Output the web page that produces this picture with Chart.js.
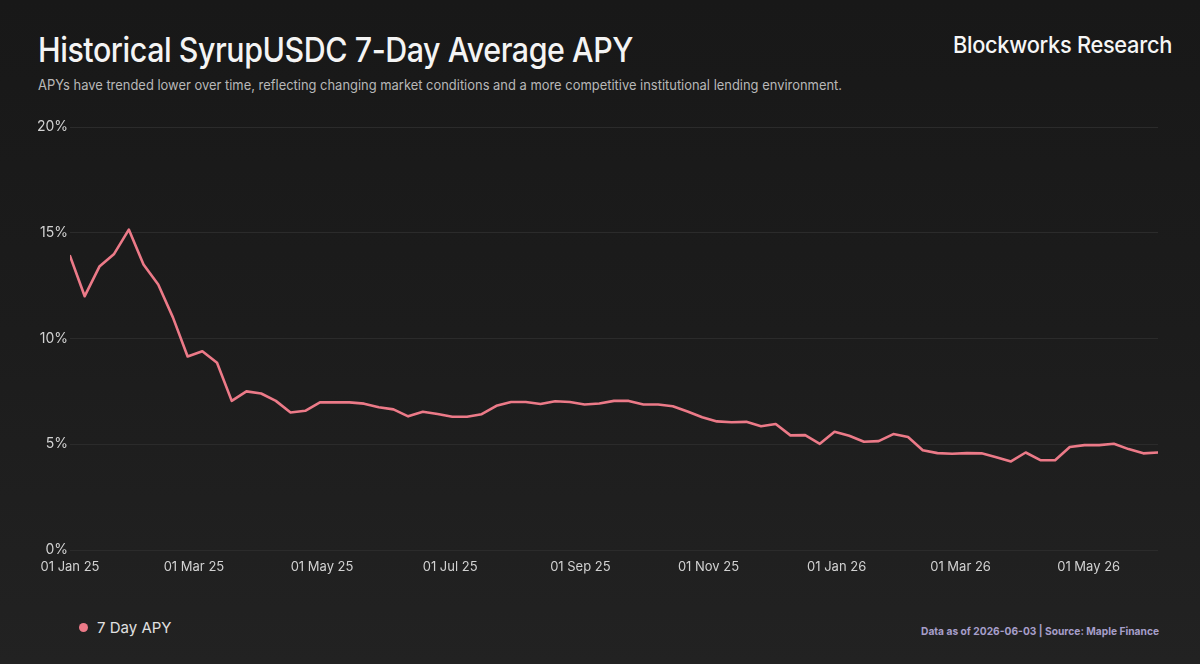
<!DOCTYPE html>
<html>
<head>
<meta charset="utf-8">
<script src="https://cdn.jsdelivr.net/npm/chart.js@4/dist/chart.umd.min.js"></script>
<style>
  html, body { margin: 0; padding: 0; }
  body {
    width: 1200px; height: 664px; overflow: hidden; position: relative;
    background: linear-gradient(180deg, #181818 0%, #1c1c1c 50%, #222222 100%);
    font-family: Inter, "Noto Sans", sans-serif;
  }
  .txt { position: absolute; white-space: nowrap; transform-origin: 0 50%; line-height: 1; }
  #title { left: 38px; top: 33px; font-size: 34px; font-weight: 500; color: #f4f4f4; letter-spacing: -0.5px; }
  #subtitle { left: 38px; top: 78px; font-size: 14px; font-weight: 400; color: #b8b8b8; }
  #brand { left: 953px; top: 34px; font-size: 23px; font-weight: 500; color: #f6f6f6; letter-spacing: -0.3px; }
  #legend { left: 79px; top: 620px; font-size: 15px; color: #e0e0e0; }
  #legend .dot { display: inline-block; width: 9px; height: 9px; border-radius: 50%; background: #ec7a88; margin-right: 9px; vertical-align: 1px; }
  #footer { left: 921px; top: 626px; font-size: 11px; font-weight: 700; color: #a69ec9; }
  #wrap { position: absolute; left: 0; top: 110px; width: 1200px; height: 480px; }
</style>
</head>
<body>
<div id="title" class="txt">Historical SyrupUSDC 7-Day Average APY</div>
<div id="subtitle" class="txt">APYs have trended lower over time, reflecting changing market conditions and a more competitive institutional lending environment.</div>
<div id="brand" class="txt">Blockworks Research</div>
<div id="legend" class="txt"><span class="dot"></span>7 Day APY</div>
<div id="footer" class="txt">Data as of 2026-06-03 | Source: Maple Finance</div>
<div id="wrap"><canvas id="c"></canvas></div>
<script>
// ---- Data ----
const dates = [
  '2025-01-01','2025-01-08','2025-01-15','2025-01-22','2025-01-29',
  '2025-02-05','2025-02-12','2025-02-19','2025-02-26',
  '2025-03-05','2025-03-12','2025-03-19','2025-03-26',
  '2025-04-02','2025-04-09','2025-04-16','2025-04-23','2025-04-30',
  '2025-05-07','2025-05-14','2025-05-21','2025-05-28',
  '2025-06-04','2025-06-11','2025-06-18','2025-06-25',
  '2025-07-02','2025-07-09','2025-07-16','2025-07-23','2025-07-30',
  '2025-08-06','2025-08-13','2025-08-20','2025-08-27',
  '2025-09-03','2025-09-10','2025-09-17','2025-09-24',
  '2025-10-01','2025-10-08','2025-10-15','2025-10-22','2025-10-29',
  '2025-11-05','2025-11-12','2025-11-19','2025-11-26',
  '2025-12-03','2025-12-10','2025-12-17','2025-12-24','2025-12-31',
  '2026-01-07','2026-01-14','2026-01-21','2026-01-28',
  '2026-02-04','2026-02-11','2026-02-18','2026-02-25',
  '2026-03-04','2026-03-11','2026-03-18','2026-03-25',
  '2026-04-01','2026-04-08','2026-04-15','2026-04-22','2026-04-29',
  '2026-05-06','2026-05-13','2026-05-20','2026-05-27',
  '2026-06-03'
];
const apy7d = [
  13.9, 12.0, 13.4, 14.0, 15.15,
  13.5, 12.55, 11.0, 9.15,
  9.4, 8.85, 7.05, 7.5,
  7.4, 7.05, 6.5, 6.58, 6.98,
  6.98, 6.98, 6.92, 6.75,
  6.65, 6.32, 6.54, 6.43,
  6.3, 6.3, 6.42, 6.82, 7.0,
  7.0, 6.9, 7.03, 7.0,
  6.88, 6.93, 7.05, 7.05,
  6.88, 6.88, 6.8, 6.55, 6.28,
  6.08, 6.04, 6.06, 5.85,
  5.96, 5.42, 5.43, 5.02, 5.59,
  5.40, 5.12, 5.15, 5.48,
  5.34, 4.72, 4.58, 4.55,
  4.58, 4.57, 4.39, 4.19,
  4.61, 4.25, 4.24, 4.87, 4.96,
  4.96, 5.02, 4.77, 4.57,
  4.61
];
const xTickDates = ['2025-01-01','2025-03-01','2025-05-01','2025-07-01','2025-09-01','2025-11-01','2026-01-01','2026-03-01','2026-05-01'];
const xTickLabels = ['01 Jan 25','01 Mar 25','01 May 25','01 Jul 25','01 Sep 25','01 Nov 25','01 Jan 26','01 Mar 26','01 May 26'];
const yTickValues = [0, 5, 10, 15, 20];
const seriesName = '7 Day APY';

// ---- helpers ----
const DAY = 86400000;
const T0 = Date.parse(dates[0] + 'T00:00:00Z');
const dayOf = s => (Date.parse(s + 'T00:00:00Z') - T0) / DAY;
const points = dates.map((d, i) => ({ x: dayOf(d), y: apy7d[i] }));

function fit(id, w) {
  const el = document.getElementById(id);
  const r = el.getBoundingClientRect().width;
  el.style.transform = 'scaleX(' + (w / r) + ')';
}

Chart.defaults.font.family = 'Inter, "Noto Sans", sans-serif';
new Chart(document.getElementById('c'), {
  type: 'line',
  data: {
    datasets: [{
      label: seriesName,
      data: points,
      borderColor: '#ec7a88',
      backgroundColor: '#ec7a88',
      borderWidth: 2.6,
      pointRadius: 0,
      tension: 0,
      borderJoinStyle: 'round',
      borderCapStyle: 'round'
    }]
  },
  options: {
    responsive: true,
    maintainAspectRatio: false,
    animation: false,
    layout: { padding: { top: 17, right: 42, left: 0, bottom: 0 } },
    plugins: { legend: { display: false }, tooltip: { enabled: false } },
    scales: {
      x: {
        type: 'linear',
        min: 0,
        max: dayOf(dates[dates.length - 1]),
        grid: { display: false },
        border: { display: false },
        afterBuildTicks: axis => { axis.ticks = xTickDates.map(d => ({ value: dayOf(d) })); },
        afterFit: s => { s.height = 40; },
        ticks: {
          autoSkip: false, maxRotation: 0, padding: 1,
          color: '#d2d2d2', font: { size: 13 },
          callback: (v, i) => xTickLabels[i]
        }
      },
      y: {
        min: 0, max: 20,
        grid: { color: '#2b2b2b', lineWidth: 1, drawTicks: false },
        border: { display: false },
        afterBuildTicks: axis => { axis.ticks = yTickValues.map(v => ({ value: v })); },
        afterFit: s => { s.width = 70; },
        ticks: {
          padding: 2, color: '#d2d2d2', font: { size: 14 },
          callback: v => v + '%'
        }
      }
    }
  }
});

document.fonts.ready.then(() => {
  fit('title', 595);
  fit('subtitle', 804);
  fit('brand', 219);
  fit('footer', 238);
});
</script>
</body>
</html>
